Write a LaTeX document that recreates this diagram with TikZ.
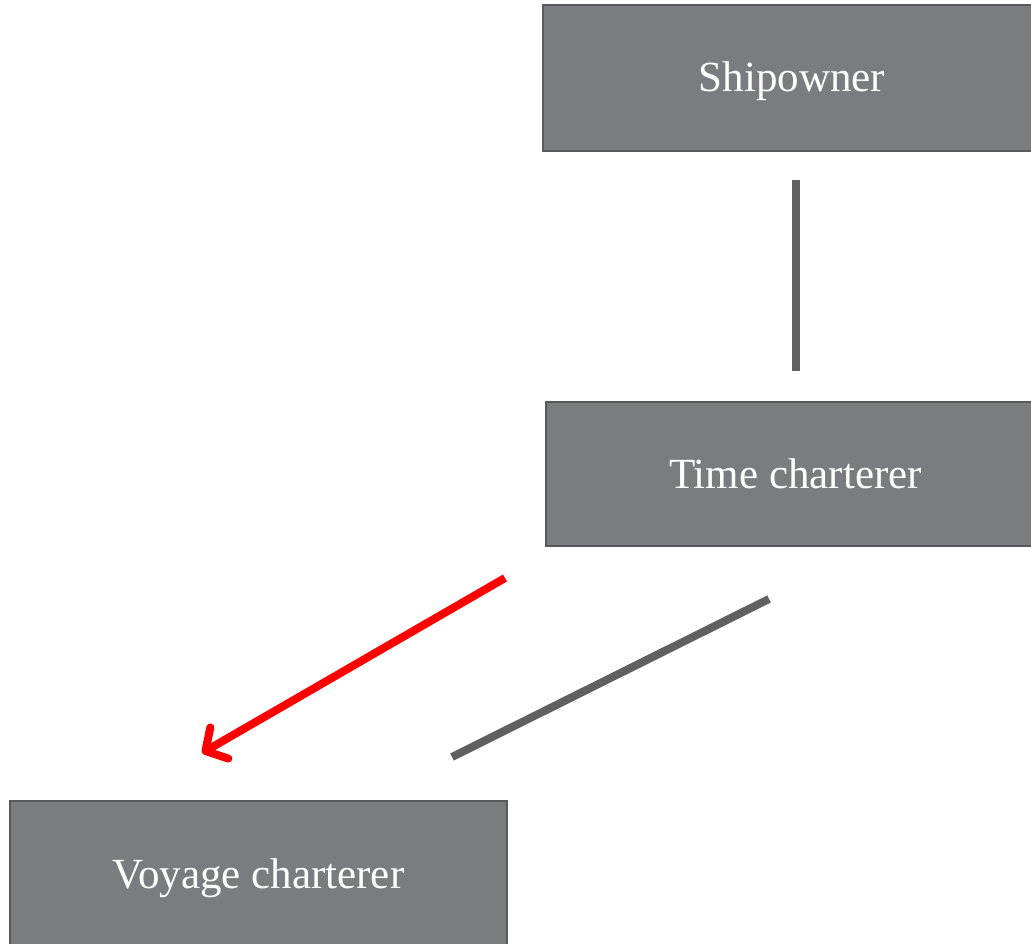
\documentclass[tikz,border=0pt]{standalone}
\usepackage{fontspec}
\setmainfont{Liberation Serif}
\usetikzlibrary{arrows.meta,calc}
\definecolor{boxfill}{HTML}{7B7C80}
\definecolor{boxedge}{HTML}{58595B}
\definecolor{linkgray}{HTML}{606060}
\tikzset{
  party/.style={rectangle, fill=boxfill, draw=boxedge, line width=2pt,
    text=white, font=\fontsize{43}{50}\selectfont, inner sep=0pt,
    text height=28pt, text depth=0pt},
  link/.style={draw=linkgray, line width=8pt},
  redlink/.style={draw=red, line width=8pt,
    -{Straight Barb[round, length=16pt, width=36pt]}}
}
\begin{document}
\begin{tikzpicture}[x=1pt, y=-1pt]
  \clip (0,0) rectangle (1031,944);
  \fill[white] (0,0) rectangle (1031,944);

  \node[party, minimum width=498pt, minimum height=146pt] (S) at (792,78) {Shipowner};
  \node[party, minimum width=499pt, minimum height=144pt] (T) at (795.5,474) {Time charterer};
  \node[party, minimum width=497pt, minimum height=146pt] (V) at (258.5,874) {Voyage charterer};

  % free ends of the diagonal links
  \coordinate (g1) at ($(T.south west)+(224,52)$);
  \coordinate (g2) at ($(V.north east)+(-56,-43)$);
  \coordinate (r1) at ($(T.south west)+(-40,31)$);
  \coordinate (r2) at ($(V.north west)+(193,-47)$);

  \draw[link, shorten <=28pt, shorten >=30pt] (T.north |- S.south) -- (T.north);
  \draw[link] (g1) -- (g2);
  \draw[redlink] (r1) -- (r2);
\end{tikzpicture}
\end{document}
